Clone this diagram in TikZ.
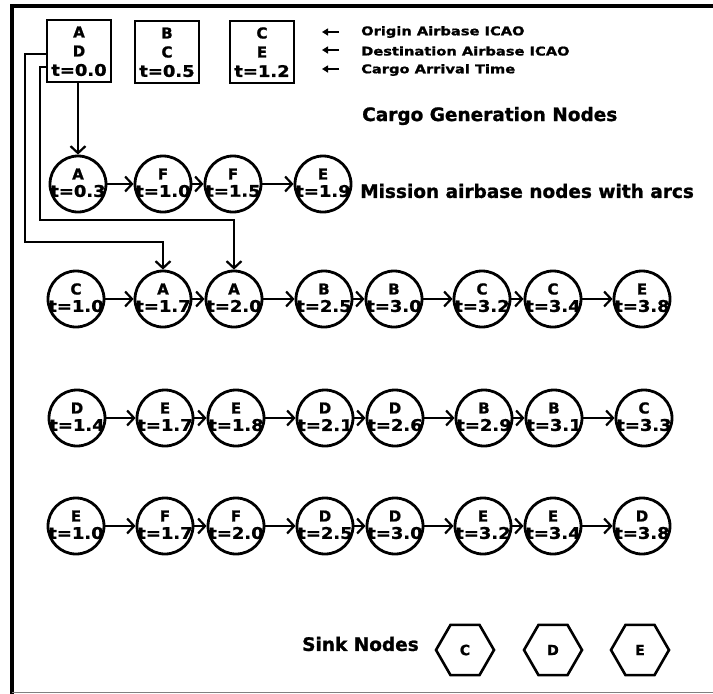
\documentclass[tikz,border=0pt]{standalone}
\usepackage{fontspec}
\setmainfont{DejaVu Sans}[BoldFeatures={FakeBold=1.2}]
\usetikzlibrary{arrows.meta,shapes.geometric}

% one mission airbase node: circle with airbase letter and time
\newcommand\airbase[5]{%
  \node[station] (#1) at (#2,#3) {};
  \node[apt] (#1-a) at (#2,#3-10) {#4};
  \node[tim] (#1-t) at (#2,#3+7) {\scalebox{1.12}[1]{t=#5}};
}
% one cargo generation box: origin, destination, time
\newcommand\cargobox[6]{%
  \node[genbox] (#1) at (#2,#3) {};
  \node[apt] (#1-o) at (#2,#3-19) {#4};
  \node[apt] (#1-d) at (#2,#3) {#5};
  \node[tim] (#1-t) at (#2,#3+19) {\scalebox{1.12}[1]{t=#6}};
}

\begin{document}
\begin{tikzpicture}[x=1pt,y=-1pt,
  every node/.style={font=\bfseries, inner sep=0pt},
  station/.style={circle, draw, line width=2.8pt, minimum size=56pt},
  genbox/.style={draw, line width=2.6pt, minimum width=64pt, minimum height=62pt},
  apt/.style={font=\bfseries\fontsize{15}{15}\selectfont},
  tim/.style={font=\bfseries\fontsize{16}{16}\selectfont},
  sink/.style={regular polygon, regular polygon sides=6, draw, line width=2.6pt,
    minimum size=58pt, font=\bfseries\fontsize{14}{14}\selectfont},
  arc/.style={line width=2pt, -{Straight Barb[length=7pt,width=15pt,line width=2.2pt]}},
  feed/.style={line width=2pt, -{Straight Barb[length=7pt,width=15pt,line width=2.2pt]}},
  keyarrow/.style={line width=2.2pt, -{Triangle[length=6pt,width=7pt]}},
  keytext/.style={anchor=west, font=\bfseries\fontsize{12}{12}\selectfont},
  title/.style={anchor=west, font=\bfseries\fontsize{18.5}{18.5}\selectfont},
]
\useasboundingbox (0,0) rectangle (713,694);

% frame
\draw[line width=3.2pt] (12,694) -- (12,6) -- (713,6);
\draw[gray, line width=1pt] (12,692) -- (713,692);

% cargo generation nodes
\cargobox{g1}{79}{51}{A}{D}{0.0}
\cargobox{g2}{167}{52}{B}{C}{0.5}
\cargobox{g3}{262}{52}{C}{E}{1.2}

% key
\coordinate (k1s) at (339,32); \coordinate (k1e) at (322,32);
\coordinate (k2s) at (339,50); \coordinate (k2e) at (322,50);
\coordinate (k3s) at (339,69); \coordinate (k3e) at (322,69);
\draw[keyarrow] (k1s) -- (k1e);
\draw[keyarrow] (k2s) -- (k2e);
\draw[keyarrow] (k3s) -- (k3e);
\node[keytext] (key1) at (361,32) {\scalebox{1.22}[1]{Origin Airbase ICAO}};
\node[keytext] (key2) at (361,51) {\scalebox{1.22}[1]{Destination Airbase ICAO}};
\node[keytext] (key3) at (361,70) {\scalebox{1.22}[1]{Cargo Arrival Time}};

\node[title] (gentitle) at (362,116) {Cargo Generation Nodes};
\node[title] (mistitle) at (360,191) {Mission airbase nodes with arcs};

% mission airbase nodes
\airbase{m11}{78}{184}{A}{0.3}
\airbase{m12}{163}{184}{F}{1.0}
\airbase{m13}{233}{184}{F}{1.5}
\airbase{m14}{323}{184}{E}{1.9}

\airbase{m21}{76}{299}{C}{1.0}
\airbase{m22}{163}{299}{A}{1.7}
\airbase{m23}{234}{299}{A}{2.0}
\airbase{m24}{324}{299}{B}{2.5}
\airbase{m25}{394}{299}{B}{3.0}
\airbase{m26}{482}{299}{C}{3.2}
\airbase{m27}{553}{299}{C}{3.4}
\airbase{m28}{642}{299}{E}{3.8}

\airbase{m31}{77}{418}{D}{1.4}
\airbase{m32}{165}{418}{E}{1.7}
\airbase{m33}{236}{418}{E}{1.8}
\airbase{m34}{325}{418}{D}{2.1}
\airbase{m35}{395}{418}{D}{2.6}
\airbase{m36}{484}{418}{B}{2.9}
\airbase{m37}{554}{418}{B}{3.1}
\airbase{m38}{644}{418}{C}{3.3}

\airbase{m41}{76}{526}{E}{1.0}
\airbase{m42}{165}{526}{F}{1.7}
\airbase{m43}{236}{526}{F}{2.0}
\airbase{m44}{325}{526}{D}{2.5}
\airbase{m45}{395}{526}{D}{3.0}
\airbase{m46}{483}{526}{E}{3.2}
\airbase{m47}{553}{526}{E}{3.4}
\airbase{m48}{642}{526}{D}{3.8}

% arcs along each mission
\foreach \a/\b in {m11/m12,m12/m13,m13/m14,
  m21/m22,m22/m23,m23/m24,m24/m25,m25/m26,m26/m27,m27/m28,
  m31/m32,m32/m33,m33/m34,m34/m35,m35/m36,m36/m37,m37/m38,
  m41/m42,m42/m43,m43/m44,m44/m45,m45/m46,m46/m47,m47/m48}
  \draw[arc] (\a) -- (\b);

% cargo feeds from the generation box
\draw[feed] (g1.south -| m11) -- (m11.north);
\draw[feed] ([yshift=-3pt]g1.west) -| (25,242) -| (m22.north);
\draw[feed] ([yshift=-16pt]g1.west) -| (40,220) -| (m23.north);

% sink nodes
\node[title] (sinktitle) at (302,644) {Sink Nodes};
\node[sink] (s1) at (465,650) {C};
\node[sink] (s2) at (553,650) {D};
\node[sink] (s3) at (640,650) {E};
\end{tikzpicture}
\end{document}
